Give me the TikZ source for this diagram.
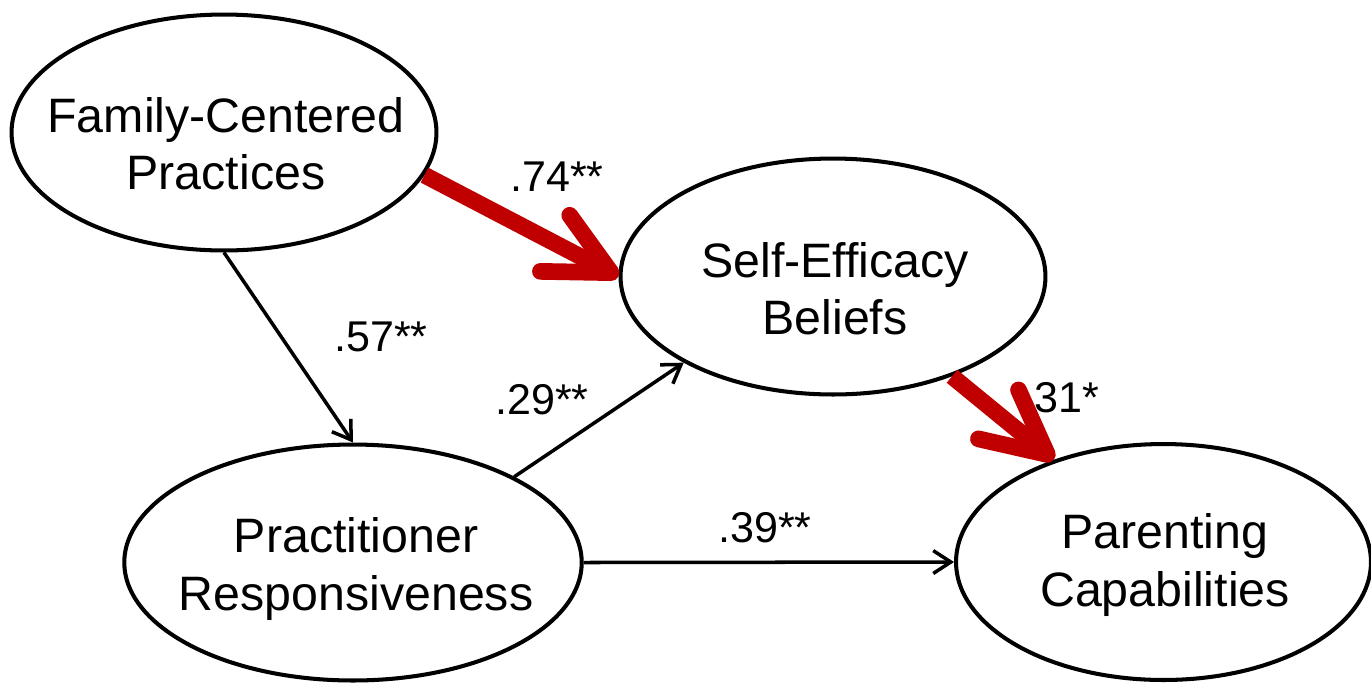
\documentclass[tikz,border=0pt]{standalone}
\usepackage{fontspec}
\setmainfont{Liberation Sans}
\usetikzlibrary{arrows.meta,shapes.geometric}
\definecolor{pathred}{RGB}{192,0,0}

\begin{document}
\begin{tikzpicture}[x=0.02cm, y=-0.02cm,
	latent/.style={draw, ellipse, line width=2.3pt, inner sep=0pt, minimum height=4.72cm},
	caption/.style={align=center, inner sep=0pt, font=\fontsize{27.5}{32.6}\selectfont},
	coef/.style={inner sep=0pt, font=\fontsize{24.5}{28}\selectfont},
	effect/.style={line width=2pt, -{Straight Barb[length=10pt, width=13pt]}},
	strongeffect/.style={line width=9.5pt, pathred, -{Straight Barb[length=36pt, width=36pt, round]}}]
		\useasboundingbox (0,0) rectangle (1371,684);
		
		\node[latent, minimum width=8.5cm] (fcp) at (224,132.5) {};
		\node[latent, minimum width=8.5cm] (seb) at (833,276.5) {};
		\node[latent, minimum width=9.15cm] (pr) at (353,562.5) {};
		\node[latent, minimum width=8.3cm] (pc) at (1163.5,562) {};
		
		\node[caption] (fcptext) at (226,144) {Family-Centered\\Practices};
		\node[caption] (sebtext) at (835,288.5) {Self-Efficacy\\Beliefs};
		\node[caption] (prtext) at (356,569) {Practitioner\\Responsiveness};
		\node[caption] (pctext) at (1165,565) {Parenting\\Capabilities};
		
		\draw[effect] (fcp.south) -- (pr.north);
		\draw[effect] (pr.28) -- (seb.-150);
		\draw[effect] (pr.east) -- (pc.west);
		\draw[strongeffect] (fcp.-12) -- (seb.west);
		\draw[strongeffect] (seb.-40) -- (pc.137);
		
		\node[coef] (c74) at (557,177) {.74**};
		\node[coef] (c57) at (381,337) {.57**};
		\node[coef] (c29) at (542,400) {.29**};
		\node[coef] (c39) at (765,528) {.39**};
		\node[coef] (c31) at (1067,398) {31*};
	\end{tikzpicture}
\end{document}
